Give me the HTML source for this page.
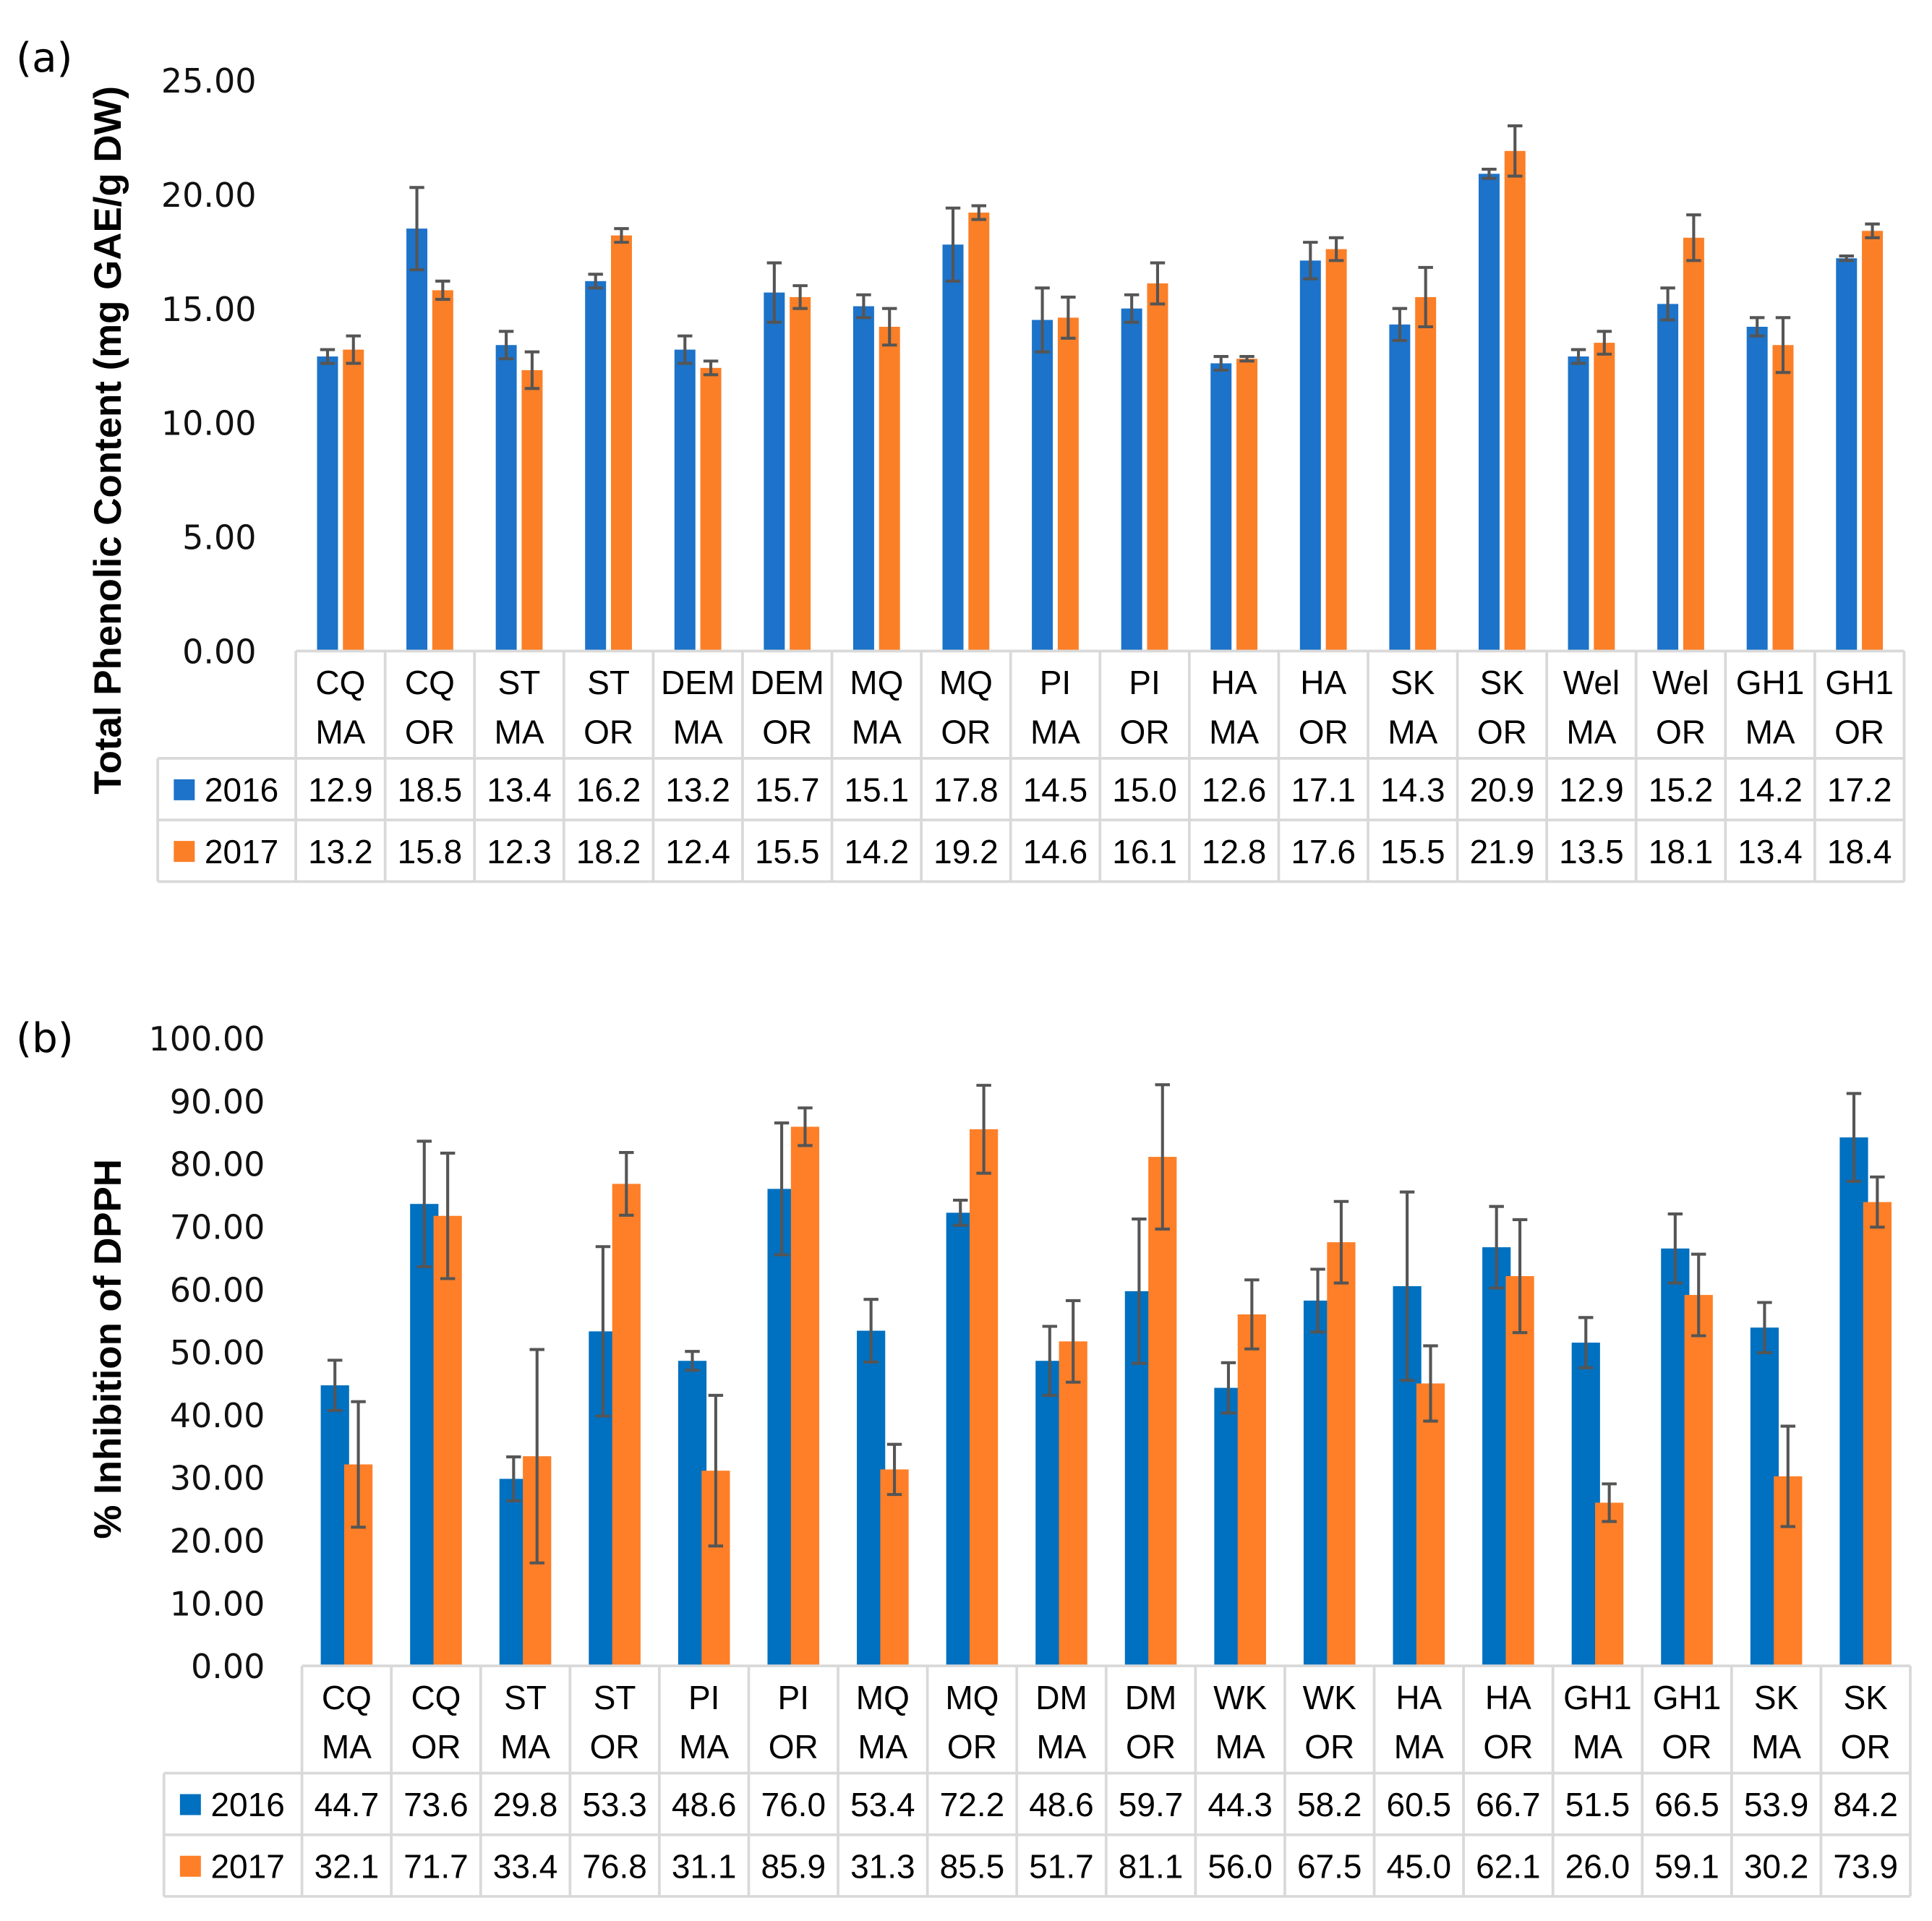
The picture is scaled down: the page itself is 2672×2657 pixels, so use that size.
<!DOCTYPE html>
<html><head><meta charset="utf-8">
<style>
html,body{margin:0;padding:0;background:#fff;}
svg{display:block;}
.tick{font-family:"DejaVu Sans","Liberation Sans",sans-serif;font-size:27px;fill:#111;}
.cell{font-family:"Liberation Sans",sans-serif;font-size:27px;fill:#000;}
.ttl{font-family:"Liberation Sans",sans-serif;font-size:31px;font-weight:bold;fill:#000;}
.pl{font-family:"DejaVu Sans","Liberation Sans",sans-serif;font-size:33px;fill:#000;}
</style></head>
<body>
<svg id="chart" width="2672" height="2657" viewBox="0 0 2672 2657" xmlns="http://www.w3.org/2000/svg">
<g id="root" transform="scale(1.7045,1.7055)"></g>
</svg>
<script>
// Panel (a)
const catsA1 = ["CQ","CQ","ST","ST","DEM","DEM","MQ","MQ","PI","PI","HA","HA","SK","SK","Wel","Wel","GH1","GH1"];
const catsA2 = ["MA","OR","MA","OR","MA","OR","MA","OR","MA","OR","MA","OR","MA","OR","MA","OR","MA","OR"];
const a2016 = [12.9,18.5,13.4,16.2,13.2,15.7,15.1,17.8,14.5,15.0,12.6,17.1,14.3,20.9,12.9,15.2,14.2,17.2];
const a2017 = [13.2,15.8,12.3,18.2,12.4,15.5,14.2,19.2,14.6,16.1,12.8,17.6,15.5,21.9,13.5,18.1,13.4,18.4];
const aErr2016 = [0.3,1.8,0.6,0.3,0.6,1.3,0.5,1.6,1.4,0.6,0.3,0.8,0.7,0.2,0.3,0.7,0.4,0.1];
const aErr2017 = [0.6,0.4,0.8,0.3,0.3,0.5,0.8,0.3,0.9,0.9,0.1,0.5,1.3,1.1,0.5,1.0,1.2,0.3];
const aTicks = ["0.00","5.00","10.00","15.00","20.00","25.00"];
// Panel (b)
const catsB1 = ["CQ","CQ","ST","ST","PI","PI","MQ","MQ","DM","DM","WK","WK","HA","HA","GH1","GH1","SK","SK"];
const catsB2 = ["MA","OR","MA","OR","MA","OR","MA","OR","MA","OR","MA","OR","MA","OR","MA","OR","MA","OR"];
const b2016 = [44.7,73.6,29.8,53.3,48.6,76.0,53.4,72.2,48.6,59.7,44.3,58.2,60.5,66.7,51.5,66.5,53.9,84.2];
const b2017 = [32.1,71.7,33.4,76.8,31.1,85.9,31.3,85.5,51.7,81.1,56.0,67.5,45.0,62.1,26.0,59.1,30.2,73.9];
const bErr2016 = [4,10,3.5,13.5,1.5,10.5,5,2,5.5,11.5,4,5,15,6.5,4,5.5,4,7];
const bErr2017 = [10,10,17,5,12,3,4,7,6.5,11.5,5.5,6.5,6,9,3,6.5,8,4];
const bTicks = ["0.00","10.00","20.00","30.00","40.00","50.00","60.00","70.00","80.00","90.00","100.00"];

const NS="http://www.w3.org/2000/svg";
const root=document.getElementById('root');
function mk(tag,attrs,parent,text){const e=document.createElementNS(NS,tag);for(const k in attrs)e.setAttribute(k,attrs[k]);if(text!==undefined)e.textContent=text;(parent||root).appendChild(e);return e;}

function panel(cfg){
  const g=mk('g',{});
  
  
  const y=v=>cfg.y0-(v/cfg.max)*(cfg.y0-cfg.yTop);
  const cw=(cfg.xR-cfg.xL)/cfg.c1.length;
  cfg.ticks.forEach((t,i)=>{
    const v=i*cfg.max/(cfg.ticks.length-1);
    const e=mk('text',{x:cfg.tickX,y:y(v)+10,'text-anchor':'end',class:'tick'},g,t);
    
    
  });
  const series=[[cfg.s1,cfg.e1,cfg.c16,'2016'],[cfg.s2,cfg.e2,cfg.c17,'2017']];
  series.forEach((s,si)=>{
    s[0].forEach((v,i)=>{
      const cx=cfg.xL+cw*(i+0.5);
      const bx=si===0?cx-cfg.bw-cfg.off:cx+cfg.off2;
      const r=mk('rect',{x:bx,y:y(v),width:cfg.bw,height:cfg.y0-y(v),fill:s[2]},g);
      
      
    });
  });
  series.forEach((s,si)=>{
    s[0].forEach((v,i)=>{
      const cx=cfg.xL+cw*(i+0.5);
      const bx=si===0?cx-cfg.bw-cfg.off:cx+cfg.off2;
      const mx=bx+cfg.bw/2, e=s[1][i];
      const eg=mk('g',{stroke:'#555','stroke-width':2.4},g);
      
      
      mk('line',{x1:mx,x2:mx,y1:y(v+e),y2:y(v-e)},eg);
      mk('line',{x1:mx-6,x2:mx+6,y1:y(v+e),y2:y(v+e)},eg);
      mk('line',{x1:mx-6,x2:mx+6,y1:y(v-e),y2:y(v-e)},eg);
    });
  });
  const tg=mk('g',{stroke:'#d9d9d9','stroke-width':2.2,fill:'none'},g);
  
  
  const r1=cfg.y0, r2=cfg.y0+87, r3=r2+50, r4=r3+50;
  mk('line',{x1:cfg.xL,x2:cfg.xR,y1:r1,y2:r1},tg);
  mk('line',{x1:cfg.legL,x2:cfg.xR,y1:r2,y2:r2},tg);
  mk('line',{x1:cfg.legL,x2:cfg.xR,y1:r3,y2:r3},tg);
  mk('line',{x1:cfg.legL,x2:cfg.xR,y1:r4,y2:r4},tg);
  mk('line',{x1:cfg.legL,x2:cfg.legL,y1:r2,y2:r4},tg);
  for(let i=0;i<=cfg.c1.length;i++){const x=cfg.xL+cw*i;mk('line',{x1:x,x2:x,y1:r1,y2:r4},tg);}
  cfg.c1.forEach((c,i)=>{
    const cx=cfg.xL+cw*(i+0.5);
    const t=mk('text',{x:cx,y:r1+35,'text-anchor':'middle',class:'cell'},g,c);
    
    
    const t2=mk('text',{x:cx,y:r1+75,'text-anchor':'middle',class:'cell'},g,cfg.c2[i]);
    
    
    const v1=mk('text',{x:cx,y:r2+35,'text-anchor':'middle',class:'cell'},g,cfg.s1[i].toFixed(1));
    
    
    const v2=mk('text',{x:cx,y:r3+35,'text-anchor':'middle',class:'cell'},g,cfg.s2[i].toFixed(1));
    
    
  });
  [[r2,cfg.c16,'2016'],[r3,cfg.c17,'2017']].forEach(L=>{
    const k=mk('rect',{x:cfg.legL+13,y:L[0]+17,width:17,height:17,fill:L[1]},g);
    
    
    const lt=mk('text',{x:cfg.legL+38,y:L[0]+35,class:'cell'},g,L[2]);
    
    
  });
  const at=mk('text',{x:0,y:0,'text-anchor':'middle',class:'ttl',transform:'translate('+cfg.ttlX+','+cfg.ttlY+') rotate(-90)'},g,cfg.title);
  
  
  const pl=mk('text',{x:13,y:cfg.plY,class:'pl'},g,cfg.pl);
  
  
}

panel({name:'panel-a-phenolic',c1:catsA1,c2:catsA2,s1:a2016,s2:a2017,e1:aErr2016,e2:aErr2017,ticks:aTicks,max:25,
  y0:528,yTop:65,xL:240,xR:1545,legL:128,tickX:208,bw:17,off:2,off2:2,c16:'#1c73c9',c17:'#fb7f27',
  title:'Total Phenolic Content (mg GAE/g DW)',ttlX:98,ttlY:357,pl:'(a)',plY:58});
panel({name:'panel-b-dpph',c1:catsB1,c2:catsB2,s1:b2016,s2:b2017,e1:bErr2016,e2:bErr2017,ticks:bTicks,max:100,
  y0:1351,yTop:842,xL:245,xR:1550,legL:133,tickX:215,bw:23,off:-2,off2:-2,c16:'#0070c0',c17:'#fe7f27',
  title:'% Inhibition of DPPH',ttlX:98,ttlY:1094,pl:'(b)',plY:853});
</script>
</body></html>
